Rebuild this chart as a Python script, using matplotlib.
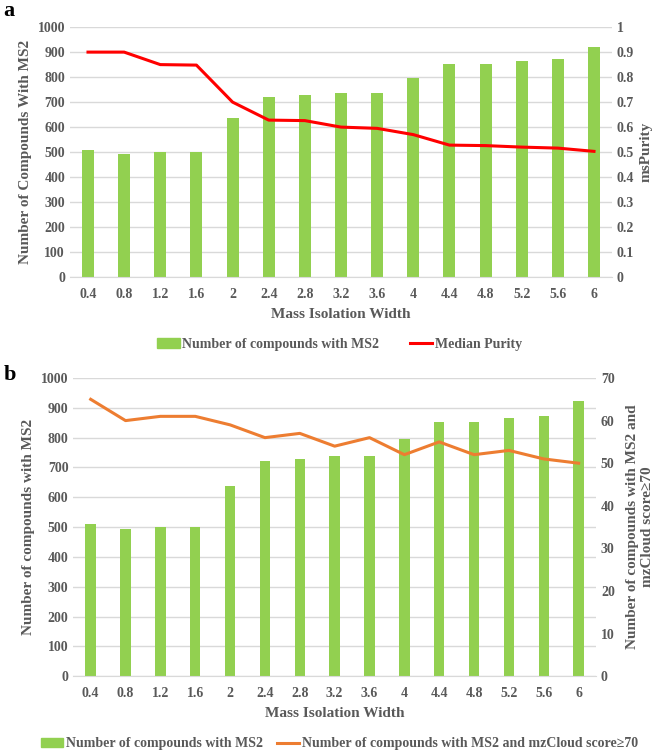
import numpy as np
import matplotlib.pyplot as plt
from matplotlib.patches import Patch
from matplotlib.lines import Line2D

# datos
widths = ['0.4', '0.8', '1.2', '1.6', '2', '2.4', '2.8', '3.2', '3.6', '4',
          '4.4', '4.8', '5.2', '5.6', '6']
n_ms2 = [510, 492, 500, 500, 638, 720, 727, 738, 737, 797, 853, 853, 866, 873, 922]
median_purity = [0.90, 0.90, 0.85, 0.848, 0.70, 0.628, 0.626, 0.60, 0.595, 0.57,
                 0.528, 0.526, 0.52, 0.516, 0.503]
n_mzcloud = [65, 60, 61, 61, 59, 56, 57, 54, 56, 52, 55, 52, 53, 51, 50]

plt.rcParams['font.family'] = ['Liberation Serif', 'DejaVu Serif']
plt.rcParams['font.weight'] = 'bold'
gris = '#595959'
verde = '#92D050'
x = np.arange(len(widths))

fig = plt.figure(figsize=(6.66, 7.53), dpi=100)


def estilo(ax, ax2):
    for a in (ax, ax2):
        for s in a.spines.values():
            s.set_visible(False)
        a.tick_params(length=0, colors=gris, labelsize=10)
        for t in a.get_xticklabels() + a.get_yticklabels():
            t.set_fontweight('bold')
    ax.tick_params(axis='x', pad=8)
    ax.spines['bottom'].set_visible(True)
    ax.spines['bottom'].set_color('#D9D9D9')
    ax.grid(axis='y', color='#D9D9D9', linewidth=1)
    ax.set_axisbelow(True)


# panel a
ax = fig.add_axes([0.105, 0.632, 0.814, 0.332])
ax.bar(x, n_ms2, width=0.33, color=verde, zorder=2)
ax.set_ylim(0, 1000)
ax.set_yticks(np.arange(0, 1001, 100))
ax.set_xlim(-0.5, 14.5)
ax.set_xticks(x)
ax.set_xticklabels(widths)
ax.set_xlabel('Mass Isolation Width', color=gris, fontsize=11, fontweight='bold', labelpad=5)
ax.set_ylabel('Number of Compounds With MS2', color=gris, fontsize=11, fontweight='bold')
ax2 = ax.twinx()
ax2.plot(x, median_purity, color='#FF0000', linewidth=2.2)
ax2.set_ylim(0, 1)
ax2.set_yticks(np.arange(0, 1.01, 0.1))
ax2.set_yticklabels(['0'] + ['%.1f' % v for v in np.arange(0.1, 0.95, 0.1)] + ['1'])
ax2.set_ylabel('msPurity', color=gris, fontsize=11, fontweight='bold')
estilo(ax, ax2)
fig.text(0.005, 0.985, 'a', fontsize=16, fontweight='bold', va='center')
fig.legend(handles=[Patch(color=verde, label='Number of compounds with MS2'),
                    Line2D([], [], color='#FF0000', lw=2.2, label='Median Purity')],
           loc='center', bbox_to_anchor=(0.51, 0.543), ncol=2, frameon=False,
           labelcolor=gris, handlelength=1.6, handletextpad=0.2, columnspacing=2.2,
           prop={'weight': 'bold', 'size': 10})

# panel b
bx = fig.add_axes([0.110, 0.102, 0.785, 0.396])
bx.bar(x, n_ms2, width=0.3, color=verde, zorder=2)
bx.set_ylim(0, 1000)
bx.set_yticks(np.arange(0, 1001, 100))
bx.set_xlim(-0.5, 14.5)
bx.set_xticks(x)
bx.set_xticklabels(widths)
bx.set_xlabel('Mass Isolation Width', color=gris, fontsize=11, fontweight='bold', labelpad=5)
bx.set_ylabel('Number of compounds with MS2', color=gris, fontsize=11, fontweight='bold')
bx2 = bx.twinx()
bx2.plot(x, n_mzcloud, color='#ED7D31', linewidth=2.2)
bx2.set_ylim(0, 70)
bx2.set_yticks(np.arange(0, 71, 10))
bx2.set_ylabel('Number of compounds with MS2 and\nmzCloud score≥70', color=gris,
               fontsize=11, fontweight='bold', labelpad=8)
estilo(bx, bx2)
fig.text(0.005, 0.502, 'b', fontsize=16, fontweight='bold', va='center')
fig.legend(handles=[Patch(color=verde, label='Number of compounds with MS2'),
                    Line2D([], [], color='#ED7D31', lw=2.2,
                           label='Number of compounds with MS2 and mzCloud score≥70')],
           loc='center', bbox_to_anchor=(0.51, 0.012), ncol=2, frameon=False,
           labelcolor=gris, handlelength=1.6, handletextpad=0.2, columnspacing=1,
           prop={'weight': 'bold', 'size': 10})

fig.savefig('out.png', dpi=100)
